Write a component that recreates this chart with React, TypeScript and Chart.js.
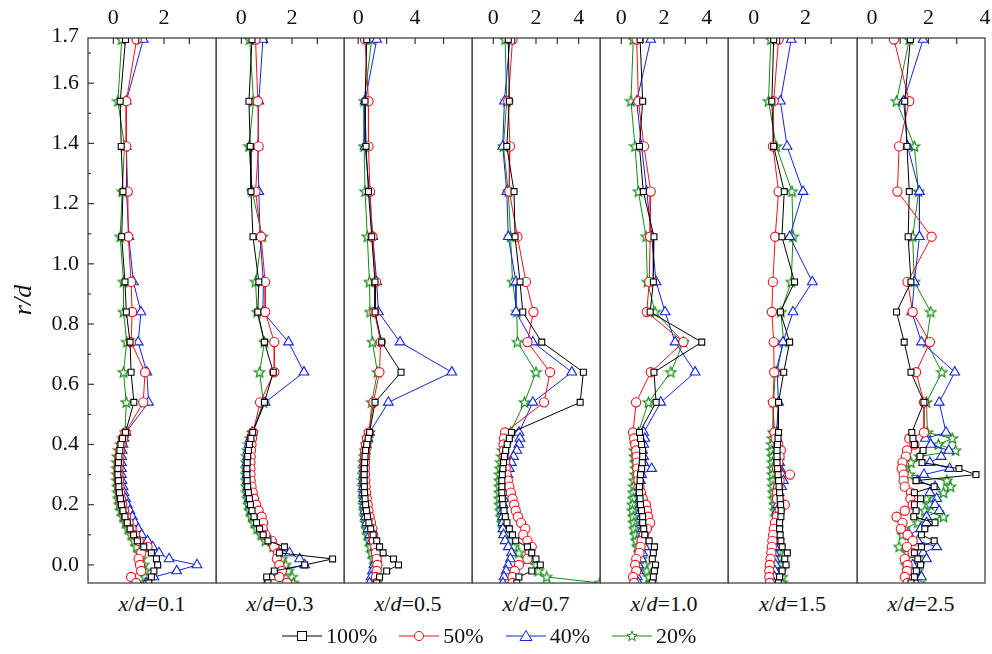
import { useEffect, useRef } from 'react'
import { Chart, registerables } from 'chart.js'

Chart.register(...registerables);

// r/d positions of the measuring points (sparse upper part, dense jet region)
const R_VALUES = [1.745, 1.54, 1.39, 1.24, 1.09, 0.94, 0.84, 0.74, 0.64, 0.54,
  0.44, 0.42, 0.40, 0.38, 0.36, 0.34, 0.32, 0.30, 0.28, 0.26, 0.24, 0.22, 0.20, 0.18, 0.16,
  0.14, 0.12, 0.10, 0.08, 0.06, 0.04, 0.02, 0.0, -0.02, -0.04, -0.06];

const SERIES_NAMES = ['100%', '50%', '40%', '20%'];
const COLORS = ['#000000', '#e8141c', '#1424e0', '#138a13'];

// x/d = 0.1
const P1_100 = [0.48, 0.27, 0.31, 0.38, 0.33, 0.46, 0.51, 0.66, 0.7, 0.81,
  0.48, 0.36, 0.3, 0.26, 0.22, 0.2, 0.18, 0.18, 0.2, 0.22, 0.24, 0.28, 0.32, 0.38, 0.46, 0.55, 0.66, 0.8, 0.95, 1.2, 1.5, 1.7, 1.75, 1.6, 1.5, 1.4];
const P1_50 = [0.92, 0.51, 0.51, 0.57, 0.59, 0.7, 0.74, 0.7, 1.25, 1.18,
  0.48, 0.38, 0.32, 0.27, 0.24, 0.22, 0.2, 0.2, 0.22, 0.24, 0.27, 0.3, 0.35, 0.42, 0.5, 0.6, 0.72, 0.86, 1.0, 1.35, 1.1, 1.0, 1.05, 1.1, 0.7, 0.9];
const P1_40 = [1.18, 0.51, 0.51, 0.53, 0.61, 0.79, 1.09, 0.98, 1.32, 1.39,
  0.5, 0.42, 0.38, 0.35, 0.33, 0.32, 0.32, 0.32, 0.34, 0.38, 0.42, 0.48, 0.55, 0.65, 0.75, 0.85, 0.98, 1.12, 1.35, 1.55, 1.8, 2.2, 3.3, 2.5, 1.6, 1.3];
const P1_20 = [0.33, 0.18, 0.44, 0.35, 0.27, 0.4, 0.4, 0.53, 0.4, 0.51,
  0.46, 0.38, 0.3, 0.22, 0.16, 0.14, 0.14, 0.14, 0.14, 0.16, 0.18, 0.2, 0.24, 0.3, 0.38, 0.48, 0.58, 0.7, 0.82, 0.92, 1.02, 1.1, 1.2, 1.25, 1.25, 1.25];

// x/d = 0.3
const P2_100 = [0.42, 0.3, 0.35, 0.38, 0.46, 0.69, 0.65, 0.91, 1.26, 0.91,
  0.45, 0.38, 0.32, 0.28, 0.25, 0.23, 0.22, 0.22, 0.23, 0.25, 0.28, 0.32, 0.36, 0.42, 0.5, 0.6, 0.72, 0.86, 1.05, 1.7, 1.5, 3.6, 2.5, 1.3, 1.0, 1.05];
const P2_50 = [0.56, 0.65, 0.68, 0.56, 0.78, 0.94, 0.94, 1.3, 1.3, 0.74,
  0.46, 0.42, 0.4, 0.38, 0.37, 0.36, 0.36, 0.36, 0.37, 0.4, 0.45, 0.5, 0.58, 0.68, 0.8, 0.86, 0.85, 0.95, 1.2, 1.3, 1.45, 1.4, 1.5, 1.6, 1.5, 1.8];
const P2_40 = [0.85, 0.69, 0.65, 0.69, 0.74, 0.87, 0.85, 1.86, 2.47, 0.94,
  0.43, 0.35, 0.3, 0.26, 0.24, 0.22, 0.22, 0.22, 0.23, 0.25, 0.28, 0.32, 0.38, 0.45, 0.55, 0.65, 0.8, 0.95, 1.15, 1.35, 1.9, 2.3, 2.5, 1.5, 1.2, 1.0];
const P2_20 = [0.33, 0.48, 0.3, 0.43, 0.82, 0.56, 0.62, 0.91, 0.72, 0.87,
  0.43, 0.36, 0.3, 0.25, 0.22, 0.2, 0.19, 0.19, 0.19, 0.2, 0.22, 0.25, 0.28, 0.33, 0.4, 0.5, 0.62, 0.78, 0.95, 1.25, 1.45, 1.6, 1.75, 1.85, 2.0, 2.05];

// x/d = 0.5
const P3_100 = [0.6, 0.48, 0.55, 0.72, 0.95, 1.18, 1.18, 1.65, 3.01, 1.18,
  0.8, 0.7, 0.6, 0.52, 0.48, 0.45, 0.43, 0.42, 0.42, 0.43, 0.45, 0.48, 0.52, 0.58, 0.65, 0.75, 0.88, 1.05, 1.3, 1.5, 1.75, 2.48, 2.83, 2.0, 1.5, 1.3];
const P3_50 = [0.48, 0.72, 0.72, 0.83, 1.0, 1.25, 1.14, 1.58, 1.49, 1.07,
  0.75, 0.62, 0.55, 0.5, 0.48, 0.47, 0.47, 0.48, 0.5, 0.52, 0.55, 0.6, 0.66, 0.72, 0.8, 0.9, 1.0, 1.05, 1.1, 1.2, 1.25, 1.3, 1.35, 1.3, 1.25, 1.3];
const P3_40 = [1.3, 0.48, 0.48, 0.79, 1.02, 1.3, 1.42, 2.94, 6.58, 2.12,
  0.8, 0.68, 0.58, 0.5, 0.45, 0.42, 0.4, 0.38, 0.37, 0.37, 0.38, 0.4, 0.43, 0.47, 0.52, 0.6, 0.7, 0.82, 0.95, 1.2, 1.42, 1.3, 1.1, 1.0, 0.9, 0.8];
const P3_20 = [0.95, 0.42, 0.41, 0.48, 0.64, 0.79, 0.83, 1.0, 1.35, 0.95,
  0.78, 0.65, 0.55, 0.48, 0.42, 0.38, 0.36, 0.34, 0.33, 0.33, 0.34, 0.36, 0.38, 0.42, 0.46, 0.52, 0.58, 0.66, 0.76, 0.86, 0.95, 1.05, 1.2, 1.25, 1.3, 1.3];

// x/d = 0.7
const P4_100 = [0.7, 0.75, 0.63, 0.97, 1.02, 1.25, 1.38, 2.27, 4.22, 4.07,
  0.85, 0.75, 0.65, 0.58, 0.52, 0.48, 0.45, 0.42, 0.4, 0.4, 0.4, 0.42, 0.45, 0.5, 0.56, 0.64, 0.75, 0.9, 1.05, 1.6, 1.8, 2.0, 2.2, 1.8, 1.2, 1.1];
const P4_50 = [0.9, 0.7, 0.78, 0.75, 1.13, 1.53, 1.88, 1.6, 2.66, 2.38,
  0.55, 0.5, 0.48, 0.5, 0.52, 0.55, 0.58, 0.62, 0.68, 0.75, 0.82, 0.9, 0.98, 1.05, 1.15, 1.3, 1.5, 1.4, 1.6, 1.8, 1.7, 1.6, 1.2, 1.0, 0.9, 0.9];
const P4_40 = [0.78, 0.52, 0.44, 0.63, 0.7, 1.06, 1.06, 1.85, 3.68, 1.85,
  1.2, 1.25, 1.2, 1.1, 0.95, 0.85, 0.75, 0.68, 0.6, 0.55, 0.5, 0.48, 0.46, 0.45, 0.44, 0.44, 0.45, 0.48, 0.55, 0.7, 0.85, 0.8, 0.7, 0.6, 0.5, 0.45];
const P4_20 = [0.55, 0.63, 0.47, 0.7, 0.81, 0.9, 1.1, 1.13, 2.0, 1.46,
  0.8, 0.65, 0.55, 0.45, 0.4, 0.35, 0.32, 0.3, 0.28, 0.28, 0.28, 0.28, 0.3, 0.32, 0.36, 0.42, 0.5, 0.62, 0.78, 0.95, 1.2, 1.6, 2.0, 2.1, 2.5, 5.0];

// x/d = 1.0
const P5_100 = [0.88, 1.0, 0.85, 1.03, 1.53, 1.5, 1.35, 3.77, 1.53, 1.63,
  0.85, 0.9, 0.95, 1.0, 1.0, 0.98, 0.95, 0.9, 0.88, 0.85, 0.85, 0.88, 0.9, 0.95, 1.0, 1.0, 1.05, 1.1, 1.3, 1.55, 1.5, 1.45, 1.6, 1.55, 1.5, 1.45];
const P5_50 = [0.72, 0.8, 1.06, 1.38, 1.35, 1.31, 1.19, 2.91, 1.38, 0.69,
  0.55, 0.6, 0.65, 0.7, 0.72, 0.75, 0.75, 0.78, 0.8, 0.85, 0.92, 1.0, 1.15, 1.2, 1.25, 1.35, 1.2, 1.05, 0.95, 0.9, 0.85, 0.7, 0.65, 0.7, 0.55, 0.6];
const P5_40 = [1.38, 0.72, 0.95, 1.19, 1.42, 1.63, 2.05, 2.52, 3.46, 1.85,
  1.05, 1.1, 1.05, 1.0, 1.05, 1.05, 1.42, 0.95, 0.9, 0.85, 0.85, 0.88, 0.9, 0.92, 0.95, 0.98, 1.0, 1.0, 1.05, 1.1, 1.0, 0.95, 0.8, 0.8, 0.75, 0.8];
const P5_20 = [0.56, 0.45, 0.64, 0.8, 1.16, 1.22, 1.58, 2.91, 2.32, 1.27,
  0.8, 0.7, 0.65, 0.62, 0.62, 0.65, 0.68, 0.65, 0.6, 0.58, 0.55, 0.55, 0.52, 0.52, 0.55, 0.58, 0.6, 0.65, 0.7, 0.75, 0.85, 0.95, 1.1, 1.2, 1.3, 1.4];

// x/d = 1.5
const P6_100 = [0.77, 0.7, 0.77, 1.18, 1.09, 1.58, 1.03, 1.39, 1.16, 0.96,
  0.96, 0.94, 0.92, 0.9, 0.9, 0.9, 0.92, 0.94, 0.96, 0.98, 1.0, 1.02, 1.04, 1.06, 1.05, 1.0, 1.0, 1.02, 1.05, 1.1, 1.3, 1.2, 1.25, 1.1, 1.0, 0.95];
const P6_50 = [0.96, 0.77, 0.74, 0.96, 0.83, 0.74, 0.7, 0.77, 0.79, 0.74,
  0.8, 0.85, 0.95, 1.05, 1.0, 0.95, 0.9, 1.4, 1.0, 0.95, 0.9, 0.9, 1.2, 1.0, 0.9, 0.82, 0.78, 0.75, 0.72, 0.7, 0.68, 0.65, 0.62, 0.6, 0.6, 0.62];
const P6_40 = [1.45, 1.03, 1.29, 1.91, 1.39, 2.27, 1.52, 1.13, 0.9, 0.96,
  0.88, 0.9, 0.92, 0.95, 0.98, 1.0, 1.02, 1.1, 1.15, 1.08, 0.98, 0.95, 0.92, 0.9, 0.9, 0.92, 0.9, 0.88, 0.85, 0.82, 0.8, 0.82, 0.85, 0.82, 0.8, 0.78];
const P6_20 = [0.66, 0.57, 0.87, 1.48, 1.52, 1.45, 1.05, 1.16, 0.83, 0.77,
  0.75, 0.72, 0.7, 0.7, 0.72, 0.72, 0.72, 0.72, 0.74, 0.74, 0.75, 0.78, 0.8, 0.82, 0.85, 0.88, 0.9, 0.92, 0.95, 0.98, 1.0, 1.02, 1.05, 1.05, 1.1, 1.1];

// x/d = 2.5
const P7_100 = [1.36, 1.16, 1.24, 1.32, 1.28, 1.38, 0.87, 1.14, 1.38, 1.84,
  1.41, 1.45, 1.5, 1.81, 1.7, 1.77, 3.08, 3.68, 1.56, 2.2, 1.5, 1.72, 1.5, 1.56, 1.48, 2.23, 1.87, 1.75, 2.2, 1.75, 1.5, 1.62, 1.72, 1.57, 1.5, 1.38];
const P7_50 = [0.78, 1.32, 0.96, 0.9, 2.11, 1.26, 1.44, 2.05, 1.56, 1.84,
  1.84, 1.32, 1.5, 1.24, 1.2, 1.08, 1.05, 1.12, 1.12, 1.16, 1.38, 1.36, 1.44, 1.16, 0.87, 1.08, 1.02, 1.26, 1.44, 1.24, 1.44, 1.16, 1.26, 1.24, 1.16, 1.26];
const P7_40 = [1.81, 1.12, 1.26, 1.68, 1.68, 1.5, 1.41, 1.75, 2.93, 2.38,
  2.62, 1.89, 2.08, 2.72, 2.45, 2.05, 2.75, 1.84, 1.62, 2.23, 2.05, 2.29, 2.23, 2.38, 1.93, 1.93, 1.72, 1.32, 1.62, 2.29, 1.81, 1.93, 1.44, 1.38, 1.75, 1.56];
const P7_20 = [1.32, 0.87, 1.5, 1.65, 1.44, 1.5, 2.08, 1.93, 2.47, 1.93,
  1.96, 2.84, 2.35, 2.96, 1.68, 1.38, 1.16, 1.32, 2.65, 2.78, 2.53, 1.93, 2.05, 1.87, 2.53, 1.62, 1.14, 1.08, 1.44, 0.96, 1.26, 1.74, 1.2, 1.62, 1.32, 1.69];

const PANEL_NAMES = ['0.1', '0.3', '0.5', '0.7', '1.0', '1.5', '2.5'];
const PANEL_LEFT = [88, 216, 344, 472, 600, 728, 857];
const PANEL_RIGHT = [216, 344, 472, 600, 728, 857, 985];
const X_MIN = [-1, -1, -1, -1, -1, -1, -0.53];
const X_MAX = [4.05, 4.05, 8, 5, 5, 4, 4];
const X_TICKS = [[0, 1, 2, 3], [0, 1, 2, 3], [0, 2, 4, 6], [0, 1, 2, 3, 4], [0, 1, 2, 3, 4], [0, 1, 2, 3], [0, 1, 2, 3]];
const X_LABELS = [[0, 2], [0, 2], [0, 4], [0, 2, 4], [0, 2, 4], [0, 2], [0, 2, 4]];
const PANEL_DATA = [
  [P1_100, P1_50, P1_40, P1_20], [P2_100, P2_50, P2_40, P2_20], [P3_100, P3_50, P3_40, P3_20],
  [P4_100, P4_50, P4_40, P4_20], [P5_100, P5_50, P5_40, P5_20], [P6_100, P6_50, P6_40, P6_20],
  [P7_100, P7_50, P7_40, P7_20],
];
const Y_MAJOR = [0, 0.2, 0.4, 0.6, 0.8, 1.0, 1.2, 1.4, 1.6];
const Y_MINOR = [0.1, 0.3, 0.5, 0.7, 0.9, 1.1, 1.3, 1.5, 1.7];

const FONT = '"Liberation Serif", "Times New Roman", Times, serif';

function makeStar(color: string) {
  const c = document.createElement('canvas');
  c.width = 13; c.height = 13;
  const g = c.getContext('2d')!;
  g.beginPath();
  for (let i = 0; i < 10; i++) {
    const r = i % 2 === 0 ? 5.5 : 2.4;
    const a = -Math.PI / 2 + i * Math.PI / 5;
    const px = 6.5 + r * Math.cos(a), py = 6.8 + r * Math.sin(a);
    if (i === 0) g.moveTo(px, py); else g.lineTo(px, py);
  }
  g.closePath();
  g.fillStyle = '#fff';
  g.fill();
  g.strokeStyle = color;
  g.lineWidth = 1.2;
  g.stroke();
  return c;
}

const axesPlugin = {
  id: 'axes',
  afterDraw(chart: any, _args: any, opts: any) {
    const { ctx, chartArea: { left, top, right, bottom }, scales: { x, y } } = chart;
    const i = opts.index;
    ctx.save();
    ctx.strokeStyle = '#333';
    ctx.lineWidth = 1.2;
    ctx.strokeRect(left, top, right - left, bottom - top);
    ctx.fillStyle = '#111';
    ctx.font = `22px ${FONT}`;
    ctx.textAlign = 'center';
    ctx.textBaseline = 'middle';
    for (const v of X_TICKS[i]) {
      const px = x.getPixelForValue(v);
      ctx.beginPath(); ctx.moveTo(px, top); ctx.lineTo(px, top + 6); ctx.stroke();
    }
    for (const v of X_LABELS[i]) ctx.fillText(String(v), x.getPixelForValue(v), top - 20);
    if (i === 0) {
      ctx.textAlign = 'right';
      for (const v of Y_MAJOR) {
        const py = y.getPixelForValue(v);
        ctx.beginPath(); ctx.moveTo(left, py); ctx.lineTo(left + 6, py); ctx.stroke();
        ctx.fillText(v.toFixed(1), left - 9, py);
      }
      for (const v of Y_MINOR) {
        const py = y.getPixelForValue(v);
        ctx.beginPath(); ctx.moveTo(left, py); ctx.lineTo(left + 3, py); ctx.stroke();
      }
      ctx.fillText('1.7', left - 9, top - 2);
      ctx.save();
      ctx.translate(24, 300);
      ctx.rotate(-Math.PI / 2);
      ctx.textAlign = 'center';
      ctx.font = `italic 26px ${FONT}`;
      ctx.fillText('r/d', 0, 0);
      ctx.restore();
    }
    ctx.restore();
  },
};

function Panel({ index }: { index: number }) {
  const ref = useRef<HTMLCanvasElement>(null);
  const left = index === 0 ? 0 : PANEL_LEFT[index];
  const padLeft = index === 0 ? PANEL_LEFT[0] : 0;
  const width = PANEL_RIGHT[index] - left + 12;

  useEffect(() => {
    if (!ref.current) return;
    const star = makeStar(COLORS[3]);
    const styles: any[] = ['rect', 'circle', 'triangle', star];
    const radii = [4.2, 4.6, 5.6, 6];
    const chart = new Chart(ref.current, {
      type: 'scatter',
      data: {
        datasets: PANEL_DATA[index].map((vals, s) => ({
          label: SERIES_NAMES[s],
          data: R_VALUES.map((r, k) => ({ x: vals[k], y: r })),
          showLine: true,
          borderColor: COLORS[s],
          borderWidth: 1,
          pointStyle: styles[s],
          pointRadius: radii[s],
          pointBorderWidth: 1.1,
          pointBorderColor: COLORS[s],
          pointBackgroundColor: '#ffffff',
        })),
      },
      options: {
        responsive: false,
        animation: false,
        layout: { autoPadding: false, padding: { left: padLeft, top: 38, right: 12, bottom: 1 } },
        plugins: { legend: { display: false }, tooltip: { enabled: false }, axes: { index } } as any,
        scales: {
          x: { type: 'linear', display: false, min: X_MIN[index], max: X_MAX[index] },
          y: { type: 'linear', display: false, min: -0.06, max: 1.75 },
        },
      },
      plugins: [axesPlugin],
    });
    return () => chart.destroy();
  }, [index]);

  return (
    <canvas ref={ref} width={width} height={584}
      style={{ position: 'absolute', left, top: 0, width, height: 584 }} />
  );
}

function LegendMarker({ s }: { s: number }) {
  const c = COLORS[s];
  return (
    <svg width={40} height={16} style={{ marginRight: 4 }}>
      <line x1={0} y1={8} x2={40} y2={8} stroke={c} strokeWidth={1} />
      {s === 0 && <rect x={15.5} y={3.5} width={9} height={9} fill="#fff" stroke={c} />}
      {s === 1 && <circle cx={20} cy={8} r={4.6} fill="#fff" stroke={c} />}
      {s === 2 && <polygon points="20,2.5 26,12.5 14,12.5" fill="#fff" stroke={c} />}
      {s === 3 && <polygon points="20,3 21.3,6.6 25.2,6.7 22.1,9 23.2,12.7 20,10.5 16.8,12.7 17.9,9 14.8,6.7 18.7,6.6" fill="#fff" stroke={c} />}
    </svg>
  );
}

export default function App() {
  return (
    <div style={{ position: 'absolute', left: 0, top: 0, width: 992, height: 654, background: '#fff', fontFamily: FONT }}>
      {PANEL_NAMES.map((_, i) => <Panel key={i} index={i} />)}
      {PANEL_NAMES.map((n, i) => (
        <div key={n} style={{
          position: 'absolute', top: 591, left: PANEL_LEFT[i], width: PANEL_RIGHT[i] - PANEL_LEFT[i],
          textAlign: 'center', fontSize: 22, color: '#111',
        }}>
          <i>x</i>/<i>d</i>={n}
        </div>
      ))}
      <div style={{ position: 'absolute', top: 623, left: 282, display: 'flex', alignItems: 'center', fontSize: 22, color: '#111' }}>
        {SERIES_NAMES.map((n, s) => (
          <span key={n} style={{ display: 'flex', alignItems: 'center', marginRight: 22 }}>
            <LegendMarker s={s} />{n}
          </span>
        ))}
      </div>
    </div>
  );
}
